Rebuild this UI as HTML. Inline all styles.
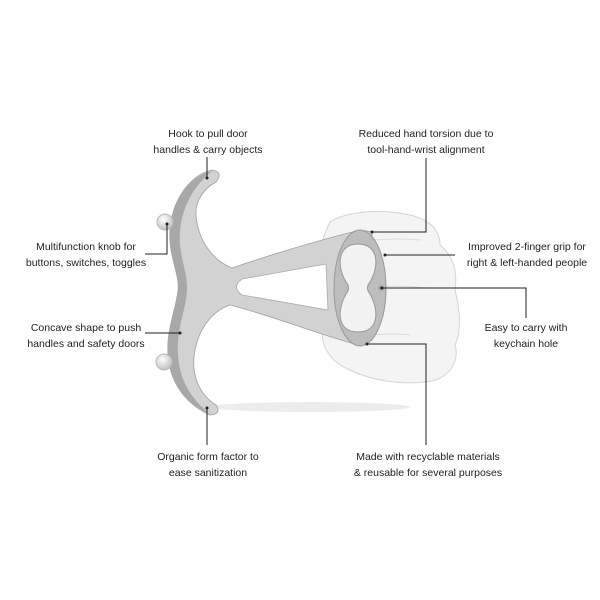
<!DOCTYPE html>
<html><head><meta charset="utf-8"><style>
html,body{margin:0;padding:0;background:#fff;}
svg{display:block}
text{font-family:"Liberation Sans",sans-serif;font-size:10.5px;fill:#222;}
</style></head><body>
<svg width="600" height="600" viewBox="0 0 600 600" xmlns="http://www.w3.org/2000/svg">
<defs>
<radialGradient id="kg" cx="0.4" cy="0.35" r="0.7"><stop offset="0" stop-color="#fff"/><stop offset="1" stop-color="#bbb"/></radialGradient>
</defs>
<ellipse cx="310" cy="407" rx="100" ry="5" fill="#ececec"/>
<path d="M330 222 C345 212 380 208 410 215 C430 220 440 230 440 245 C452 255 458 270 455 290 C460 310 462 330 455 345 C460 360 450 380 425 382 C400 385 370 380 350 370 C330 362 320 345 323 330 C318 318 316 300 322 290 C316 275 318 245 330 222 Z" fill="#f4f4f4" stroke="#d4d4d4" stroke-width="1"/>
<path d="M375 240 Q400 238 420 240 M378 287 Q405 285 425 288 M372 335 Q395 333 410 335" stroke="#dcdcdc" fill="none"/>
<path d="M212 170 C190 175 172 200 170 230 C168 255 180 275 178 290 C176 310 166 330 168 355 C170 385 188 405 210 415 Q222 414 216 405 C200 395 190 375 195 350 C200 325 215 310 230 305 C270 315 320 335 362 346 L372 340 L372 232 L360 230 C320 240 270 255 232 268 C212 260 198 240 196 215 C195 200 205 188 216 182 Q224 172 212 170 Z" fill="#d2d2d2" stroke="#a0a0a0" stroke-width="0.8"/>
<path d="M212 171 C190 176 172 200 170 230 C168 255 180 275 178 290 C176 310 166 330 168 355 C170 385 188 405 210 414 C195 402 180 385 178 355 C176 330 186 310 187 290 C188 272 178 255 180 232 C182 205 195 185 212 171 Z" fill="#a8a8a8"/>
<path d="M242 279 L326 264 L328 310 L242 295 Q231 287 242 279 Z" fill="#fff" stroke="#aaa" stroke-width="0.8"/>
<ellipse cx="360" cy="288" rx="26" ry="58" fill="#bdbdbd" stroke="#999"/>
<path d="M358 244 C378 244 380 265 370 282 Q365 288 370 294 C380 312 378 332 358 332 C338 332 336 312 346 294 Q351 288 346 282 C336 265 338 244 358 244 Z" fill="#f2f2f2" stroke="#999"/>
<circle cx="381" cy="288" r="2.5" fill="#999"/>
<circle cx="165" cy="222" r="8" fill="url(#kg)" stroke="#bbb"/>
<circle cx="164" cy="362" r="8" fill="url(#kg)" stroke="#bbb"/>
<g stroke="#222" stroke-width="1" fill="none">
<path d="M207 157 V178"/>
<path d="M145 254 H167 V224"/>
<path d="M145 333 H180"/>
<path d="M207 445 V408"/>
<path d="M426 158 V232 H372"/>
<path d="M455 255 H385"/>
<path d="M382 288 H526 V318"/>
<path d="M367 344 H426 V445"/>
</g>
<g fill="#222">
<circle cx="207" cy="178" r="1.5"/><circle cx="167" cy="224" r="1.5"/><circle cx="180" cy="333" r="1.5"/><circle cx="207" cy="408" r="1.5"/>
<circle cx="372" cy="232" r="1.5"/><circle cx="385" cy="255" r="1.5"/><circle cx="382" cy="288" r="1.5"/><circle cx="367" cy="344" r="1.5"/>
</g>
<g text-anchor="middle">
<text x="208" y="137">Hook to pull door</text><text x="208" y="153">handles &amp; carry objects</text>
<text x="426" y="137">Reduced hand torsion due to</text><text x="426" y="153">tool-hand-wrist alignment</text>
<text x="86" y="250">Multifunction knob for</text><text x="86" y="266">buttons, switches, toggles</text>
<text x="86" y="331">Concave shape to push</text><text x="86" y="347">handles and safety doors</text>
<text x="527" y="250">Improved 2-finger grip for</text><text x="527" y="266">right &amp; left-handed people</text>
<text x="526" y="331">Easy to carry with</text><text x="526" y="347">keychain hole</text>
<text x="208" y="460">Organic form factor to</text><text x="208" y="476">ease sanitization</text>
<text x="428" y="460">Made with recyclable materials</text><text x="428" y="476">&amp; reusable for several purposes</text>
</g>
</svg>
</body></html>
